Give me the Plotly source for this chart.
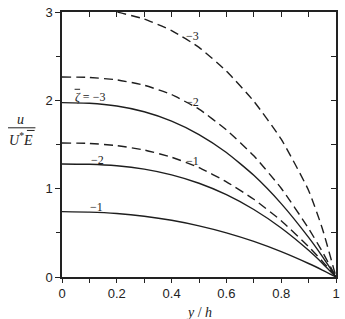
import plotly.graph_objects as go

# y/h positions
y_h = [0, 0.1, 0.2, 0.3, 0.4, 0.5, 0.6, 0.7, 0.8, 0.9, 0.95, 1.0]

# solid curves (labelled zeta = -1, -2, -3)
solid_m1 = [0.74, 0.735, 0.719, 0.688, 0.642, 0.579, 0.500, 0.403, 0.287, 0.153, 0.079, 0.0]
solid_m2 = [1.28, 1.276, 1.259, 1.221, 1.156, 1.061, 0.932, 0.764, 0.555, 0.302, 0.157, 0.0]
solid_m3 = [1.974, 1.967, 1.936, 1.871, 1.765, 1.613, 1.410, 1.151, 0.831, 0.448, 0.233, 0.0]

# dashed curves
dashed_m1 = [1.517, 1.512, 1.488, 1.438, 1.356, 1.239, 1.078, 0.880, 0.637, 0.344, 0.179, 0.0]
dashed_m2 = [2.264, 2.259, 2.232, 2.171, 2.064, 1.900, 1.665, 1.372, 1.005, 0.550, 0.287, 0.0]
dashed_m3 = [3.08, 3.05, 3.00, 2.92, 2.79, 2.60, 2.33, 1.99, 1.56, 0.98, 0.55, 0.0]

x_ticks = [0, 0.1, 0.2, 0.3, 0.4, 0.5, 0.6, 0.7, 0.8, 0.9, 1.0]
x_tick_text = ["0", "", "0.2", "", "0.4", "", "0.6", "", "0.8", "", "1"]
y_ticks = [0, 1, 2, 3]
y_tick_text = ["0", "1", "2", "3"]

LC = "#1e1e1e"
fig = go.Figure()

def add(y, dash, axes=("x", "y")):
    fig.add_trace(go.Scatter(
        x=y_h, y=y, mode="lines",
        line=dict(color=LC, width=1.4, dash=dash, shape="spline", smoothing=0.5),
        xaxis=axes[0], yaxis=axes[1], hoverinfo="skip", showlegend=False))

add(solid_m1, "solid", ("x2", "y2"))
add(solid_m2, "solid")
add(solid_m3, "solid")
add(dashed_m1, "9px,5px")
add(dashed_m2, "9px,5px")
add(dashed_m3, "9px,5px")

tickfont = dict(family="Liberation Sans, Arial", size=13, color="#222")
axline = dict(showline=True, linecolor="#222", linewidth=1.5, showgrid=False, zeroline=False)

fig.update_layout(
    width=345, height=319,
    margin=dict(l=62, r=5, t=8, b=42),
    paper_bgcolor="white", plot_bgcolor="white",
    xaxis=dict(range=[0, 1], tickvals=x_ticks, ticktext=x_tick_text, ticks="outside",
               ticklen=4, tickwidth=1.2, tickcolor="#222", tickfont=tickfont, **axline),
    yaxis=dict(range=[0, 3], tickvals=y_ticks, ticktext=y_tick_text, ticks="outside",
               ticklen=5, tickwidth=1.2, tickcolor="#222", tickfont=tickfont,
               minor=dict(dtick=0.5, ticks="outside", ticklen=4, tickwidth=1.2, tickcolor="#222"),
               **axline),
    xaxis2=dict(range=[0, 1], overlaying="x", side="top", anchor="y2", dtick=0.1, tick0=0,
                ticks="inside", ticklen=5, tickwidth=1.2, tickcolor="#222",
                showticklabels=False, **axline),
    yaxis2=dict(range=[0, 3], overlaying="y", side="right", anchor="x2", dtick=0.5, tick0=0,
                ticks="inside", ticklen=5, tickwidth=1.2, tickcolor="#222",
                showticklabels=False, **axline),
)

serif = dict(family="Liberation Serif", size=12, color="#222")
labels = [
    (0.13, 1.33, "\u22122"),
    (0.125, 0.79, "\u22121"),
    (0.478, 1.31, "\u22121"),
    (0.478, 1.98, "\u22122"),
    (0.478, 2.73, "\u22123"),
]
for lx, ly, t in labels:
    fig.add_annotation(x=lx, y=ly, text=t, showarrow=False, font=serif,
                       xanchor="center", yanchor="middle")
fig.add_annotation(x=0.04, y=2.04, text="<i>\u03b6</i> = \u22123", showarrow=False,
                   font=serif, xanchor="left", yanchor="middle")
# bar over zeta
fig.add_shape(type="line", xref="x", yref="y", x0=0.046, x1=0.066, y0=2.125, y1=2.125,
              line=dict(color="#222", width=1))

# axis titles
fig.add_annotation(xref="paper", yref="paper", x=0.5, y=-0.134, text="<i>y</i> / <i>h</i>",
                   showarrow=False, font=dict(family="Liberation Serif", size=14, color="#222"),
                   xanchor="center", yanchor="middle")
fig.add_annotation(xref="paper", yref="paper", x=-0.151, y=0.595, text="<i>u</i>",
                   showarrow=False, font=dict(family="Liberation Serif", size=14, color="#222"),
                   xanchor="center", yanchor="middle")
fig.add_annotation(xref="paper", yref="paper", x=-0.151, y=0.52,
                   text="<i>U</i><sup>*</sup><i>E</i>",
                   showarrow=False, font=dict(family="Liberation Serif", size=14, color="#222"),
                   xanchor="center", yanchor="middle")
fig.add_shape(type="line", xref="paper", yref="paper", x0=-0.197, x1=-0.097, y0=0.563, y1=0.563,
              line=dict(color="#222", width=1))
# bar over E
fig.add_shape(type="line", xref="paper", yref="paper", x0=-0.128, x1=-0.100, y0=0.553, y1=0.553,
              line=dict(color="#222", width=1))

fig.write_html("out.html")
